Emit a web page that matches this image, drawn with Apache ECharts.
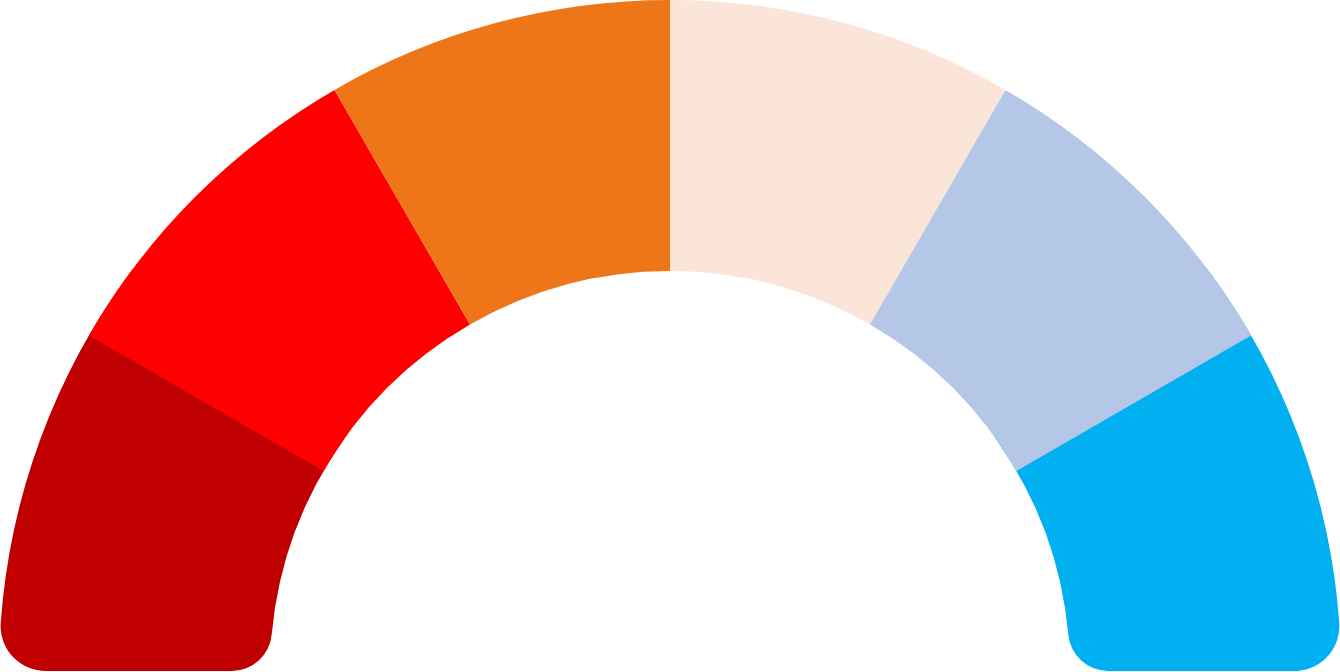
<!DOCTYPE html>
<html>
<head>
<meta charset="utf-8">
<script src="https://cdn.jsdelivr.net/npm/echarts@6/dist/echarts.min.js"></script>
<style>html,body{margin:0;padding:0;background:#fff}#c{width:1340px;height:672px}</style>
</head>
<body>
<div id="c"></div>
<script>
// Six equal bands of the half-donut, left to right
var categories = ['Band 1', 'Band 2', 'Band 3', 'Band 4', 'Band 5', 'Band 6'];
var values = [1, 1, 1, 1, 1, 1];
var colors = ['#C00000', '#FF0000', '#EE7619', '#FAE5D8', '#B4C7E7', '#00B0F0'];

var total = values.reduce(function (a, b) { return a + b; }, 0);
var n = values.length;
var hidden = { color: 'rgba(0,0,0,0)', borderWidth: 0 };

// Layer 1: rounded end bands, slightly widened so layer 2 covers the inner rounded corners
var ext = 0.35;
var endData = [
  { name: categories[0], value: values[0] + ext, itemStyle: { color: colors[0] } },
  { name: 'gap', value: total - values[0] - values[n - 1] - 2 * ext, itemStyle: hidden },
  { name: categories[n - 1], value: values[n - 1] + ext, itemStyle: { color: colors[n - 1] } },
  { name: 'bottom', value: total, itemStyle: hidden }
];
// Layer 2: sharp middle bands
var midData = [{ name: 'left', value: values[0], itemStyle: hidden }];
for (var i = 1; i < n - 1; i++) {
  midData.push({ name: categories[i], value: values[i], itemStyle: { color: colors[i] } });
}
midData.push({ name: 'right', value: values[n - 1], itemStyle: hidden });
midData.push({ name: 'bottom', value: total, itemStyle: hidden });

var common = {
  type: 'pie',
  center: [670, 671],
  radius: [400, 671],
  startAngle: 180,
  clockwise: true,
  avoidLabelOverlap: false,
  label: { show: false },
  labelLine: { show: false },
  silent: true,
  animation: false,
  emphasis: { disabled: true },
  minAngle: 0
};

var chart = echarts.init(document.getElementById('c'), null, { renderer: 'canvas' });
chart.setOption({
  backgroundColor: '#ffffff',
  animation: false,
  series: [
    Object.assign({}, common, { z: 1, data: endData, itemStyle: { borderRadius: [40, 45], borderWidth: 0 } }),
    Object.assign({}, common, { z: 2, data: midData, itemStyle: { borderRadius: 0, borderWidth: 0 } })
  ]
});
</script>
</body>
</html>
